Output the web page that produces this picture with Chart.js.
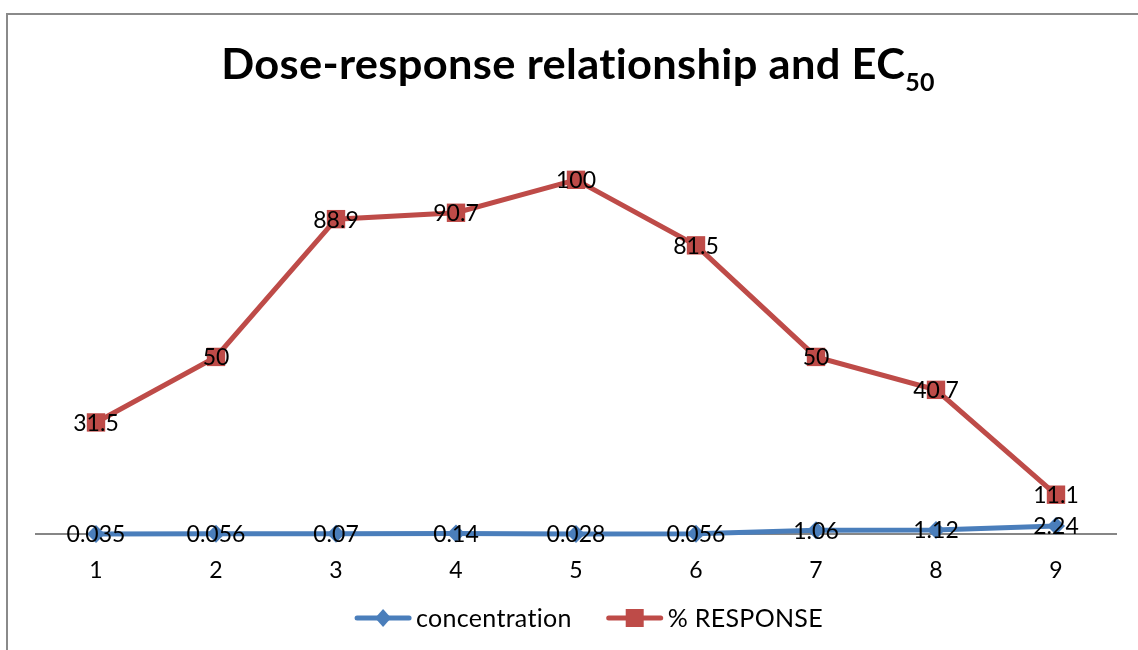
<!DOCTYPE html>
<html>
<head>
<meta charset="utf-8">
<script src="https://cdn.jsdelivr.net/npm/chart.js@4.4.1/dist/chart.umd.min.js"></script>
<style>
html,body{margin:0;padding:0;background:#fff;overflow:hidden;}
#wrap{width:1138px;height:650px;position:relative;}
</style>
</head>
<body>
<div id="wrap"><canvas id="c" width="1138" height="650"></canvas></div>
<script>
// ---- data ----
const categories = ['1','2','3','4','5','6','7','8','9'];
const concentration = [0.035, 0.056, 0.07, 0.14, 0.028, 0.056, 1.06, 1.12, 2.24];
const responsePct = [31.5, 50, 88.9, 90.7, 100, 81.5, 50, 40.7, 11.1];
const seriesNames = ['concentration', '% RESPONSE'];
const titleMain = 'Dose-response relationship and EC';
const titleSub = '50';

// ---- style ----
const BLUE = '#4A7EBB';
const RED = '#BE4B48';
const FONT = 'Lato, "Open Sans", sans-serif';

function noLigatures(ctx) {
  if ('letterSpacing' in ctx) ctx.letterSpacing = '0.3px';
}

const framePlugin = {
  id: 'frame',
  beforeDraw(chart) {
    const ctx = chart.ctx;
    ctx.save();
    ctx.fillStyle = '#fff';
    ctx.fillRect(0, 0, chart.width, chart.height);
    ctx.strokeStyle = '#8a8a8a';
    ctx.lineWidth = 2;
    ctx.beginPath();
    ctx.moveTo(7, chart.height + 5);
    ctx.lineTo(7, 14);
    ctx.lineTo(chart.width + 5, 14);
    ctx.stroke();
    ctx.restore();
  }
};

const labelPlugin = {
  id: 'pointLabels',
  afterDatasetsDraw(chart) {
    const ctx = chart.ctx;
    ctx.save();
    ctx.font = '23px ' + FONT;
    ctx.fillStyle = '#000';
    ctx.textAlign = 'center';
    ctx.textBaseline = 'middle';
    chart.data.datasets.forEach((ds, i) => {
      const meta = chart.getDatasetMeta(i);
      meta.data.forEach((pt, j) => {
        ctx.fillText(String(ds.data[j]), pt.x, pt.y + 1);
      });
    });
    ctx.restore();
  }
};

const titlePlugin = {
  id: 'richTitle',
  afterDraw(chart) {
    const ctx = chart.ctx;
    const ca = chart.chartArea;
    ctx.save();
    noLigatures(ctx);
    ctx.fillStyle = '#000';
    ctx.textBaseline = 'alphabetic';
    ctx.textAlign = 'left';
    const mainFont = 'bold 42px ' + FONT;
    const subFont = 'bold 25px ' + FONT;
    const targetMain = 684;          // rendered width of the main title text
    ctx.font = mainFont;
    const w1 = ctx.measureText(titleMain).width;
    const sx = targetMain / w1;
    ctx.font = subFont;
    const w2 = ctx.measureText(titleSub).width;
    const gap = 0;
    const total = targetMain + gap + w2;
    const cx = (ca.left + ca.right) / 2 + 2;
    const x0 = cx - total / 2;
    ctx.font = mainFont;
    ctx.save();
    ctx.translate(x0, 79);
    ctx.scale(sx, 1);
    ctx.fillText(titleMain, 0, 0);
    ctx.restore();
    ctx.font = subFont;
    ctx.fillText(titleSub, x0 + targetMain + gap, 91);
    ctx.restore();
  }
};

const legendPlugin = {
  id: 'lineLegend',
  afterDraw(chart) {
    const ctx = chart.ctx;
    const ca = chart.chartArea;
    ctx.save();
    noLigatures(ctx);
    ctx.font = '25px ' + FONT;
    ctx.textBaseline = 'middle';
    ctx.textAlign = 'left';
    const lineLen = 56, gap = 5, between = 35;
    const items = chart.data.datasets.map(ds => ({
      label: ds.label, color: ds.borderColor, style: ds.pointStyle,
      w: lineLen + gap + ctx.measureText(ds.label).width
    }));
    const total = items.reduce((s, it) => s + it.w, 0) + between * (items.length - 1);
    let x = (ca.left + ca.right) / 2 + 13 - total / 2;
    const y = 618;
    items.forEach(it => {
      ctx.strokeStyle = it.color;
      ctx.fillStyle = it.color;
      ctx.lineWidth = 5;
      ctx.lineCap = 'round';
      ctx.beginPath();
      ctx.moveTo(x + 2, y);
      ctx.lineTo(x + lineLen - 2, y);
      ctx.stroke();
      const mx = x + lineLen / 2;
      ctx.beginPath();
      if (it.style === 'rectRot') {
        ctx.moveTo(mx, y - 9);
        ctx.lineTo(mx + 8, y);
        ctx.lineTo(mx, y + 9);
        ctx.lineTo(mx - 8, y);
        ctx.closePath();
      } else {
        ctx.rect(mx - 9, y - 9, 18, 18);
      }
      ctx.fill();
      ctx.fillStyle = '#000';
      ctx.fillText(it.label, x + lineLen + gap, y + 1);
      x += it.w + between;
    });
    ctx.restore();
  }
};

new Chart(document.getElementById('c'), {
  type: 'line',
  data: {
    labels: categories,
    datasets: [
      {
        label: seriesNames[0],
        data: concentration,
        borderColor: BLUE,
        backgroundColor: BLUE,
        borderWidth: 5,
        pointStyle: 'rectRot',
        pointRadius: 9,
        pointHoverRadius: 9,
        pointBorderWidth: 0,
        tension: 0,
        order: 2
      },
      {
        label: seriesNames[1],
        data: responsePct,
        borderColor: RED,
        backgroundColor: RED,
        borderWidth: 5,
        pointStyle: 'rect',
        pointRadius: 13,
        pointHoverRadius: 13,
        pointBorderWidth: 0,
        tension: 0,
        order: 1
      }
    ]
  },
  options: {
    responsive: false,
    animation: false,
    devicePixelRatio: 1,
    clip: false,
    layout: { padding: { top: 109, left: 36, right: 22, bottom: 60 } },
    plugins: {
      legend: { display: false },
      title: { display: false },
      tooltip: { enabled: false }
    },
    scales: {
      x: {
        type: 'category',
        offset: true,
        grid: { display: false, drawTicks: false },
        border: { display: true, color: '#868686', width: 2 },
        ticks: { color: '#000', font: { family: FONT, size: 23 }, padding: 23 },
        afterFit(scale) { scale.height = 56; }
      },
      y: {
        display: false,
        min: 0,
        max: 120
      }
    }
  },
  plugins: [framePlugin, labelPlugin, titlePlugin, legendPlugin]
});
</script>
</body>
</html>
